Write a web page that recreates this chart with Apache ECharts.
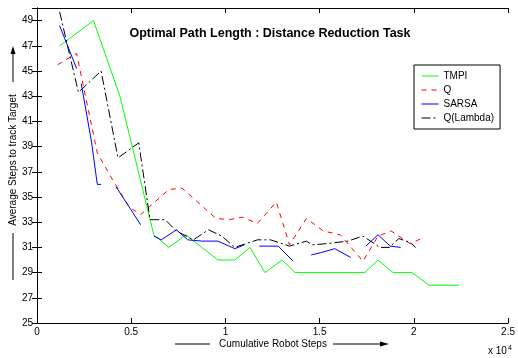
<!DOCTYPE html>
<html>
<head>
<meta charset="utf-8">
<script src="https://cdn.jsdelivr.net/npm/echarts@6/dist/echarts.min.js"></script>
<style>
  html, body { margin: 0; padding: 0; background: #fff; }
  #chart { width: 518px; height: 358px; }
</style>
</head>
<body>
<div id="chart"></div>
<script>
// x is in units of 10^4 cumulative robot steps, '-' marks a break in the line
const tmpi = [[0.12, 47], [0.30, 49], [0.44, 43], [0.62, 32], [0.70, 31], [0.79, 32], [0.96, 30],
  [1.05, 30], [1.13, 31], [1.21, 29], [1.30, 30], [1.37, 29], [1.74, 29], [1.81, 30], [1.89, 29],
  [1.99, 29], [2.08, 28], [2.24, 28]];
const q = [[0.11, 45.5], [0.21, 46.4], [0.22, 46.4], [0.32, 38.5], [0.40, 36.4], [0.49, 34.2], [0.55, 33.6],
  [0.70, 35.6], [0.77, 35.7], [0.95, 33.3], [1.02, 33.2], [1.09, 33.4], [1.17, 32.9], [1.27, 34.6],
  [1.34, 31.2], [1.43, 33.3], [1.52, 32.3], [1.61, 32.0], [1.73, 29.9], [1.81, 31.9], [1.88, 32.3],
  [1.98, 31.3], [2.04, 31.7]];
const sarsa = [[0.12, 48.6], [0.21, 45.2], [0.22, '-'], [0.235, 44.0], [0.29, 39.3], [0.32, 36.0], [0.34, 36.0],
  [0.38, '-'], [0.42, 35.8], [0.55, 32.8], [0.58, '-'], [0.62, 31.9], [0.66, 31.6], [0.74, 32.4], [0.80, 31.6],
  [0.875, 31.5], [0.96, 31.5], [1.02, 31.1], [1.05, 30.9], [1.10, 31.2], [1.14, '-'], [1.18, 31.1],
  [1.28, 31.1], [1.36, 29.9], [1.40, '-'], [1.455, 30.4], [1.51, 30.6], [1.58, 30.9], [1.665, 30.2],
  [1.70, '-'], [1.745, 31.1], [1.81, 32.0], [1.875, 31.1], [1.93, 31.0]];
const qLambda = [[0.12, 49.7], [0.22, 43.3], [0.34, 45.0], [0.43, 38.1], [0.54, 39.3], [0.60, 33.2],
  [0.68, 33.2], [0.74, 32.3], [0.83, 31.6], [0.91, 32.4], [0.98, 31.9], [1.05, 31.0], [1.17, 31.6],
  [1.24, 31.6], [1.34, 31.1], [1.43, 31.5], [1.46, 31.2], [1.54, 31.3], [1.65, 31.5], [1.73, 31.9],
  [1.82, 31.0], [1.87, 31.0], [1.92, 31.7], [1.98, 31.4], [2.01, 31.0]];

const names = ['TMPI', 'Q', 'SARSA', 'Q(Lambda)'];
const colors = ['#00ff00', '#ff0000', '#0000ff', '#000000'];
const dashes = ['solid', [5, 5], 'solid', [9, 3, 2, 3]];
const allData = [tmpi, q, sarsa, qLambda];

const font = 'Liberation Sans, Arial, sans-serif';

let myChart = echarts.init(document.getElementById('chart'));

const axisCommon = {
  axisLine: { show: true, lineStyle: { color: '#000', width: 1 } },
  axisTick: { show: true, inside: true, length: 5, lineStyle: { color: '#000' } },
  splitLine: { show: false }
};

let option = {
  backgroundColor: '#fff',
  animation: false,
  grid: { left: 37, right: 6, top: 8, bottom: 35 },
  legend: {
    orient: 'vertical',
    left: 414,
    top: 65,
    data: names,
    itemWidth: 17,
    itemHeight: 10,
    itemGap: 4,
    padding: [6, 6, 6, 7],
    borderColor: '#000',
    borderWidth: 1,
    backgroundColor: '#fff',
    itemStyle: { opacity: 0 },
    lineStyle: { width: 1 },
    textStyle: { fontSize: 10, color: '#000', fontFamily: font }
  },
  xAxis: [
    Object.assign({
      type: 'value', min: 0, max: 2.5, interval: 0.5, position: 'bottom',
      axisLabel: { color: '#000', fontSize: 10, fontFamily: font, margin: 4 }
    }, axisCommon),
    Object.assign({
      type: 'value', min: 0, max: 2.5, interval: 0.5, position: 'top',
      axisLabel: { show: false }
    }, axisCommon)
  ],
  yAxis: [
    Object.assign({
      type: 'value', min: 25, max: 50, interval: 2, position: 'left',
      axisLabel: { color: '#000', fontSize: 10, fontFamily: font, margin: 4, showMaxLabel: false }
    }, axisCommon),
    Object.assign({
      type: 'value', min: 25, max: 50, interval: 2, position: 'right',
      axisLabel: { show: false }
    }, axisCommon)
  ],
  series: names.map((name, i) => ({
    name: name,
    type: 'line',
    xAxisIndex: 0,
    yAxisIndex: 0,
    data: allData[i],
    symbol: 'none',
    connectNulls: false,
    itemStyle: { color: colors[i] },
    lineStyle: { color: colors[i], width: 1, type: dashes[i] }
  })),
  graphic: [
    {
      type: 'text', x: 270, y: 34,
      style: {
        text: 'Optimal Path Length : Distance Reduction Task',
        align: 'center', verticalAlign: 'middle',
        font: 'bold 12.5px ' + font, fill: '#000'
      }
    },
    {
      type: 'text', x: 13, y: 160, rotation: Math.PI / 2,
      style: {
        text: 'Average Steps to track Target', align: 'center', verticalAlign: 'middle',
        font: '10px ' + font, fill: '#000'
      }
    },
    { type: 'line', shape: { x1: 13, y1: 233, x2: 13, y2: 280 }, style: { stroke: '#000', lineWidth: 1 } },
    { type: 'line', shape: { x1: 13, y1: 53, x2: 13, y2: 82 }, style: { stroke: '#000', lineWidth: 1 } },
    { type: 'polygon', shape: { points: [[13, 46], [10.5, 54], [15.5, 54]] }, style: { fill: '#000' } },
    {
      type: 'text', x: 273, y: 344,
      style: {
        text: 'Cumulative Robot Steps', align: 'center', verticalAlign: 'middle',
        font: '10px ' + font, fill: '#000'
      }
    },
    { type: 'line', shape: { x1: 175, y1: 344, x2: 210, y2: 344 }, style: { stroke: '#000', lineWidth: 1 } },
    { type: 'line', shape: { x1: 333, y1: 344, x2: 381, y2: 344 }, style: { stroke: '#000', lineWidth: 1 } },
    { type: 'polygon', shape: { points: [[389, 344], [380, 341.5], [380, 346.5]] }, style: { fill: '#000' } },
    {
      type: 'text', x: 488, y: 345,
      style: {
        text: 'x 10{sup|4}',
        font: '10px ' + font, fill: '#000',
        rich: { sup: { fontSize: 7, fontFamily: font, verticalAlign: 'top', padding: [0, 0, 6, 1] } }
      }
    }
  ]
};

myChart.setOption(option);
</script>
</body>
</html>
